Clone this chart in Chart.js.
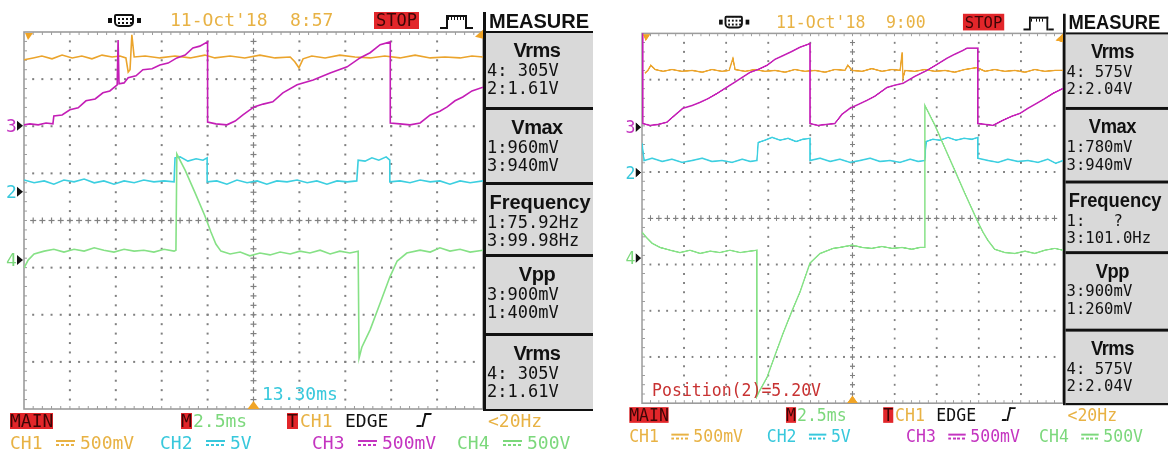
<!DOCTYPE html>
<html>
<head>
<title>Scope captures</title>
<script src="https://cdn.jsdelivr.net/npm/chart.js"></script>
<style>
  body { margin: 0; background: #fff; width: 1168px; height: 453px; overflow: hidden; position: relative; }
  .scope { position: absolute; top: 0; width: 600px; height: 453px; overflow: hidden; transform-origin: 0 0; }
  #left { left: 0; width: 593px; }
  #right { left: 620px; top: 1.6px; transform: scale(0.917, 0.981); }
  .scope canvas { position: absolute; left: 0; top: 0; width: 600px; height: 453px; }
  .t { position: absolute; white-space: pre; font-family: "DejaVu Sans Mono", monospace; }
  .tag { background: #e2262a; color: #3c0606; }
  .blk { position: absolute; background: #111; }
  .box { position: absolute; left: 486px; width: 120px; background: #d9d9d9; }
  .mt { font: bold 20px/20px "Liberation Sans", Arial, sans-serif; color: #111; letter-spacing: -0.5px; text-align: center; }
  .sq { position: absolute; top: 18px; width: 4px; height: 5px; background: #111; }
  .plug { position: absolute; left: 114px; top: 14px; width: 16px; height: 9px; border: 2px solid #111;
          border-radius: 2px 2px 5px 5px;
          background: radial-gradient(circle, #111 40%, transparent 55%) 1px 1px / 4px 4px; }
  .pulse { position: absolute; left: 446px; top: 15px; width: 17px; height: 12px; border: 2px solid #111; border-bottom: none;
           background: repeating-linear-gradient(90deg, #111 0 1px, transparent 1px 3px) top / 100% 3px no-repeat; }
  .pulse::before, .pulse::after { content: ''; position: absolute; bottom: 0; width: 6px; height: 2px; background: #111; }
  .pulse::before { left: -8px; }
  .pulse::after { right: -8px; }
  .edge { position: absolute; left: 423px; top: 413px; width: 5px; height: 12px; border-left: 2px solid #111;
          border-top: 2px solid #111; transform: skewX(-14deg); }
  .edge::before { content: ''; position: absolute; left: -7px; bottom: 0; width: 5px; height: 2px; background: #111; }
  .dc { position: absolute; width: 19px; height: 6px;
        background: linear-gradient(currentColor, currentColor) top / 100% 2px no-repeat,
                    repeating-linear-gradient(90deg, currentColor 0 3px, transparent 3px 5px) bottom / 100% 2px no-repeat; }
</style>
</head>
<body>
<div class="scope" id="left"><canvas width="600" height="453"></canvas></div>
<div class="scope" id="right"><canvas width="600" height="453"></canvas></div>
<script>
// x: time in divisions (2.5 ms/div), y: divisions from screen centre
const channelNames = ['CH1', 'CH2', 'CH3', 'CH4'];
const channelScales = ['500mV', '5V', '500mV', '500V'];
const groundChannels = ['3', '2', '4'];

const leftCh1 = [[0,3.41],[0.2,3.45],[0.39,3.49],[0.61,3.43],[0.83,3.51],[1.05,3.45],[1.26,3.49],[1.48,3.43],[1.7,3.51],[1.92,3.47],[2.09,3.49],[2.22,3.45],[2.27,3.15],[2.31,3.2],[2.35,3.94],[2.4,3.47],[2.64,3.49],[2.96,3.45],[3.29,3.49],[3.62,3.45],[3.94,3.51],[4.16,3.45],[4.49,3.49],[4.81,3.45],[5.14,3.51],[5.47,3.45],[5.8,3.47],[5.9,3.37],[5.99,3.24],[6.08,3.43],[6.27,3.49],[6.56,3.45],[6.88,3.51],[7.21,3.47],[7.54,3.45],[7.86,3.49],[8.19,3.45],[8.52,3.51],[8.85,3.45],[9.17,3.47],[9.5,3.45],[9.76,3.49],[10,3.47]];
const leftCh2 = [[0,0.86],[0.22,0.8],[0.44,0.84],[0.65,0.77],[0.87,0.86],[1.09,0.82],[1.31,0.88],[1.53,0.8],[1.74,0.84],[1.96,0.77],[2.18,0.84],[2.4,0.8],[2.61,0.86],[2.83,0.82],[3.05,0.84],[3.27,0.82],[3.29,1.33],[3.4,1.35],[3.57,1.26],[3.75,1.31],[3.9,1.28],[3.99,1.33],[3.99,0.82],[4.2,0.84],[4.42,0.77],[4.64,0.86],[4.86,0.8],[5.08,0.84],[5.29,0.77],[5.51,0.84],[5.73,0.82],[5.95,0.86],[6.17,0.8],[6.38,0.84],[6.6,0.77],[6.82,0.84],[7.04,0.82],[7.25,0.84],[7.28,1.28],[7.43,1.26],[7.58,1.33],[7.73,1.28],[7.89,1.35],[7.97,1.28],[7.97,0.82],[8.19,0.84],[8.41,0.8],[8.63,0.86],[8.85,0.82],[9.06,0.84],[9.28,0.77],[9.5,0.84],[9.72,0.8],[10,0.84]];
const leftCh3 = [[0,2.03],[0.13,2.05],[0.31,2.03],[0.48,2.07],[0.63,2.05],[0.65,2.22],[0.83,2.24],[1.0,2.35],[1.18,2.39],[1.35,2.54],[1.55,2.58],[1.72,2.71],[1.87,2.75],[2.03,2.88],[2.05,3.83],[2.07,2.9],[2.18,2.92],[2.27,3.03],[2.44,3.07],[2.59,3.2],[2.79,3.22],[2.96,3.3],[3.14,3.34],[3.33,3.45],[3.51,3.51],[3.68,3.66],[3.83,3.7],[4.0,3.79],[4.0,2.09],[4.18,2.05],[4.42,2.03],[4.6,2.11],[4.77,2.24],[5.01,2.41],[5.21,2.47],[5.42,2.52],[5.64,2.71],[5.95,2.88],[6.3,2.98],[6.67,3.13],[7.04,3.26],[7.32,3.45],[7.54,3.56],[7.76,3.73],[7.98,3.79],[7.98,2.07],[8.19,2.05],[8.41,2.03],[8.63,2.07],[8.85,2.24],[9.06,2.32],[9.22,2.41],[9.39,2.54],[9.56,2.62],[9.76,2.75],[10,2.83]];
const leftCh4 = [[0,-1.01],[0.09,-0.84],[0.22,-0.71],[0.44,-0.65],[0.65,-0.61],[0.87,-0.67],[1.09,-0.61],[1.31,-0.65],[1.53,-0.58],[1.74,-0.63],[1.96,-0.67],[2.18,-0.61],[2.4,-0.65],[2.61,-0.63],[2.83,-0.67],[3.05,-0.61],[3.27,-0.65],[3.31,-0.63],[3.33,1.41],[3.51,1.07],[3.73,0.58],[3.94,0.1],[4.07,-0.24],[4.18,-0.5],[4.29,-0.65],[4.49,-0.71],[4.71,-0.67],[4.92,-0.75],[5.14,-0.69],[5.36,-0.73],[5.58,-0.67],[5.8,-0.71],[6.01,-0.65],[6.23,-0.69],[6.45,-0.63],[6.67,-0.71],[6.88,-0.65],[7.1,-0.69],[7.28,-0.65],[7.3,-2.92],[7.36,-2.69],[7.54,-2.32],[7.76,-1.75],[7.97,-1.2],[8.13,-0.86],[8.34,-0.69],[8.63,-0.63],[8.85,-0.67],[9.06,-0.58],[9.28,-0.65],[9.5,-0.61],[9.72,-0.67],[10,-0.63]];

const rightCh1 = [[0.07,3.14],[0.14,3.2],[0.21,3.31],[0.31,3.22],[0.5,3.18],[0.71,3.22],[0.95,3.18],[1.19,3.2],[1.43,3.16],[1.66,3.22],[1.9,3.18],[2.07,3.2],[2.16,3.46],[2.21,3.22],[2.45,3.18],[2.68,3.22],[2.92,3.18],[3.16,3.2],[3.4,3.16],[3.63,3.22],[3.87,3.18],[4.11,3.2],[4.35,3.16],[4.58,3.22],[4.82,3.2],[4.89,3.31],[4.99,3.2],[5.23,3.18],[5.46,3.24],[5.7,3.18],[5.94,3.22],[6.13,3.2],[6.18,3.59],[6.2,3.03],[6.25,3.2],[6.48,3.18],[6.72,3.22],[6.96,3.18],[7.2,3.2],[7.43,3.16],[7.67,3.22],[7.96,3.26],[8.15,3.18],[8.38,3.22],[8.62,3.18],[8.86,3.2],[9.1,3.16],[9.33,3.22],[9.57,3.18],[9.81,3.2],[10,3.2]];
const rightCh2 = [[0,1.62],[0.05,1.25],[0.24,1.3],[0.48,1.23],[0.71,1.28],[0.95,1.21],[1.19,1.25],[1.43,1.3],[1.66,1.23],[1.9,1.25],[2.14,1.21],[2.38,1.28],[2.57,1.23],[2.73,1.25],[2.76,1.64],[2.92,1.69],[3.09,1.75],[3.28,1.69],[3.47,1.73],[3.66,1.66],[3.82,1.71],[3.99,1.73],[3.99,1.25],[4.23,1.3],[4.47,1.23],[4.7,1.28],[4.94,1.21],[5.18,1.25],[5.42,1.3],[5.65,1.23],[5.89,1.25],[6.13,1.21],[6.37,1.28],[6.56,1.23],[6.72,1.25],[6.75,1.66],[6.91,1.71],[7.08,1.69],[7.27,1.75],[7.46,1.69],[7.65,1.73],[7.84,1.71],[7.98,1.75],[7.98,1.3],[8.22,1.25],[8.46,1.21],[8.69,1.28],[8.93,1.23],[9.17,1.25],[9.41,1.21],[9.64,1.28],[9.83,1.19],[10,1.25]];
const rightCh3 = [[0,4.0],[0.02,2.05],[0.19,2.01],[0.38,2.03],[0.59,2.08],[0.78,2.23],[0.97,2.38],[1.19,2.44],[1.38,2.51],[1.57,2.59],[1.78,2.7],[1.97,2.81],[2.16,2.92],[2.35,3.03],[2.57,3.16],[2.76,3.22],[2.97,3.31],[3.16,3.44],[3.35,3.52],[3.56,3.61],[3.75,3.7],[3.99,3.78],[3.99,2.05],[4.18,2.01],[4.37,2.03],[4.58,2.05],[4.75,2.25],[4.94,2.38],[5.13,2.46],[5.34,2.55],[5.53,2.64],[5.82,2.83],[6.01,2.88],[6.2,2.92],[6.48,3.07],[6.77,3.2],[7.01,3.33],[7.24,3.46],[7.43,3.55],[7.62,3.63],[7.72,3.68],[7.98,3.68],[7.98,2.05],[8.17,2.03],[8.34,2.01],[8.57,2.12],[8.79,2.21],[8.98,2.27],[9.17,2.38],[9.38,2.49],[9.57,2.59],[9.76,2.7],[10,2.81]];
const rightCh4 = [[0,-0.3],[0.1,-0.41],[0.24,-0.54],[0.43,-0.63],[0.67,-0.69],[0.9,-0.74],[1.14,-0.69],[1.38,-0.76],[1.62,-0.71],[1.85,-0.74],[2.09,-0.69],[2.33,-0.74],[2.57,-0.71],[2.73,-0.69],[2.73,-3.85],[2.8,-3.72],[2.97,-3.44],[3.16,-2.96],[3.35,-2.49],[3.56,-2.01],[3.75,-1.6],[3.99,-0.97],[4.23,-0.76],[4.54,-0.65],[4.7,-0.63],[4.99,-0.58],[5.23,-0.63],[5.46,-0.65],[5.7,-0.61],[5.94,-0.65],[6.18,-0.63],[6.41,-0.67],[6.6,-0.63],[6.72,-0.63],[6.72,2.44],[6.96,2.01],[7.2,1.51],[7.43,1.04],[7.67,0.54],[7.96,-0.04],[8.1,-0.3],[8.22,-0.48],[8.38,-0.67],[8.62,-0.74],[8.86,-0.76],[9.1,-0.71],[9.33,-0.76],[9.57,-0.69],[9.81,-0.65],[10,-0.69]];

const leftGround = [2.01, 0.61, -0.84];
const rightGround = [1.97, 0.99, -0.86];
const trigTime = 5;
const leftTrigLevel = 3.94;
const rightTrigLevel = 3.89;

const measureTitles = ['Vrms', 'Vmax', 'Frequency', 'Vpp', 'Vrms'];
const leftReadings = [['4: 305V', '2:1.61V'], ['1:960mV', '3:940mV'], ['1:75.92Hz', '3:99.98Hz'], ['3:900mV', '1:400mV'], ['4: 305V', '2:1.61V']];
const rightReadings = [['4: 575V', '2:2.04V'], ['1:780mV', '3:940mV'], ['1:   ?', '3:101.0Hz'], ['3:900mV', '1:260mV'], ['4: 575V', '2:2.04V']];
const leftStamp = ["11-Oct'18", '8:57'];
const rightStamp = ["11-Oct'18", '9:00'];
const timebase = '2.5ms';
const trigInfo = ['CH1', 'EDGE', '<20Hz'];

// styles
const traceColors = ['#eba42c', '#3ccfe0', '#c41eb6', '#86e186'];
const textColors = ['#e8b244', '#38c8dc', '#c434c0', '#7cd87c'];
const boxRows = [[33, 107], [110, 182], [185, 254], [257, 333], [336, 409]];

const scopeGrid = {
  id: 'scopeGrid',
  beforeDatasetsDraw(chart) {
    const { ctx, chartArea: a, scales: { x, y } } = chart;
    ctx.save();
    ctx.fillStyle = '#808080';
    const dot = (px, py) => ctx.fillRect(px - 1, py - 1, 2, 2);
    const cross = (px, py) => { ctx.fillRect(px - 3, py - 0.6, 6, 1.2); ctx.fillRect(px - 0.6, py - 3, 1.2, 6); };
    for (let i = 1; i < 10; i++) {
      const px = x.getPixelForValue(i);
      for (let k = 1; k < 40; k++) {
        const py = y.getPixelForValue(-4 + k / 5);
        i === 5 ? cross(px, py) : dot(px, py);
      }
    }
    for (let j = -3; j <= 3; j++) {
      const py = y.getPixelForValue(j);
      for (let k = 1; k < 50; k++) {
        const px = x.getPixelForValue(k / 5);
        j === 0 ? cross(px, py) : dot(px, py);
      }
    }
    ctx.strokeStyle = '#9c9c9c';
    ctx.lineWidth = 1.6;
    ctx.strokeRect(a.left, a.top, a.right - a.left, a.bottom - a.top);
    ctx.lineWidth = 1;
    ctx.beginPath();
    for (let k = 1; k < 50; k++) {
      const px = x.getPixelForValue(k / 5);
      ctx.moveTo(px, a.top); ctx.lineTo(px, a.top + 3);
      ctx.moveTo(px, a.bottom); ctx.lineTo(px, a.bottom - 3);
    }
    for (let k = 1; k < 40; k++) {
      const py = y.getPixelForValue(-4 + k / 5);
      ctx.moveTo(a.left, py); ctx.lineTo(a.left + 3, py);
    }
    ctx.stroke();
    ctx.restore();
  }
};

const scopeMarks = {
  id: 'scopeMarks',
  afterDatasetsDraw(chart, args, o) {
    const { ctx, chartArea: a, scales: { x, y } } = chart;
    const tri = (p) => { ctx.beginPath(); ctx.moveTo(...p[0]); ctx.lineTo(...p[1]); ctx.lineTo(...p[2]); ctx.closePath(); ctx.fill(); };
    ctx.save();
    ctx.fillStyle = '#111';
    o.grounds.forEach(v => {
      const py = y.getPixelForValue(v);
      tri([[a.left - 7, py - 5], [a.left - 1, py], [a.left - 7, py + 5]]);
    });
    ctx.fillStyle = '#f0a426';
    const tx = x.getPixelForValue(o.trigTime);
    tri([[tx - 6, a.bottom], [tx, a.bottom - 8], [tx + 6, a.bottom]]);
    const ty = y.getPixelForValue(o.trigLevel);
    tri([[a.right, ty - 5], [a.right, ty + 4], [a.right - 8, ty + 2]]);
    tri([[a.left + 1, a.top + 1], [a.left + 9, a.top + 1], [a.left + 4, a.top + 8]]);
    ctx.restore();
  }
};

function el(parent, cls, css, text) {
  const e = document.createElement('div');
  e.className = cls;
  if (css) e.style.cssText = css;
  if (text != null) e.textContent = text;
  parent.appendChild(e);
  return e;
}

function buildScope(id, cfg) {
  const root = document.getElementById(id);
  const txt = (x, cy, s, color, size = 18, extra = '') =>
    el(root, 't', `left:${x}px;top:${cy - size / 2}px;font-size:${size}px;line-height:${size}px;color:${color};${extra}`, s);
  const tag = (x, cy, w, s) =>
    el(root, 't tag', `left:${x}px;top:${cy - 8}px;width:${w}px;height:16px;font-size:18px;line-height:16px;text-align:center`, s);

  // header strip
  el(root, 'sq', 'left:108px');
  el(root, 'plug');
  el(root, 'sq', 'left:137px');
  txt(170, 20, cfg.stamp[0], textColors[0]);
  txt(290, 20, cfg.stamp[1], textColors[0]);
  el(root, 't tag', 'left:374px;top:12px;width:45px;height:17px;font-size:17px;line-height:17px;text-align:center', 'STOP');
  el(root, 'pulse');

  // measure panel
  el(root, 'blk', 'left:483px;top:12px;width:3px;height:399px');
  el(root, 'blk', 'left:486px;top:31px;width:120px;height:380px');
  el(root, 't mt', 'left:489px;top:11px;text-align:left;letter-spacing:0', 'MEASURE');
  boxRows.forEach(([top, bottom], i) => {
    el(root, 'box', `top:${top}px;height:${bottom - top}px`);
    const big = measureTitles[i].length > 5;
    el(root, 't mt', `left:436px;width:202px;top:${top + 7}px;${big ? 'letter-spacing:0;padding-left:3px' : ''}`, measureTitles[i]);
    txt(487, top + 37, cfg.readings[i][0], '#111', 17);
    txt(487, top + 55, cfg.readings[i][1], '#111', 17);
  });

  // status rows
  tag(10, 420.5, 43, 'MAIN');
  tag(181, 420.5, 11, 'M');
  txt(193, 420.5, timebase, textColors[3]);
  tag(287, 420.5, 11, 'T');
  txt(300, 420.5, trigInfo[0], textColors[0]);
  txt(345, 420.5, trigInfo[1], '#111');
  el(root, 'edge');
  txt(488, 420.5, trigInfo[2], textColors[0]);
  const chX = [10, 160, 312, 457];
  channelNames.forEach((n, i) => {
    txt(chX[i], 443, n, textColors[i]);
    el(root, 'dc', `left:${chX[i] + 46}px;top:440px;color:${textColors[i]}`);
    txt(chX[i] + 70, 443, channelScales[i], textColors[i]);
  });
  cfg.notes.forEach(([s, x, cy, color]) => txt(x, cy, s, color));

  const chart = new Chart(root.querySelector('canvas'), {
    type: 'line',
    data: {
      datasets: cfg.traces.map((pts, i) => ({
        label: channelNames[i],
        data: pts,
        borderColor: traceColors[i],
        borderWidth: 1.6,
        pointRadius: 0,
        tension: 0,
        order: 4 - i
      }))
    },
    options: {
      responsive: false,
      animation: false,
      devicePixelRatio: cfg.dpr,
      events: [],
      layout: { padding: { left: 24, top: 32, right: 117, bottom: 44 } },
      scales: {
        x: { type: 'linear', min: 0, max: 10, display: false },
        y: { type: 'linear', min: -4, max: 4, display: false }
      },
      plugins: {
        legend: { display: false },
        tooltip: { enabled: false },
        scopeMarks: { grounds: cfg.ground, trigTime: trigTime, trigLevel: cfg.trigLevel }
      }
    },
    plugins: [scopeGrid, scopeMarks]
  });

  // channel ground labels next to the markers
  cfg.ground.forEach((v, i) => {
    const ch = groundChannels[i];
    txt(6, chart.scales.y.getPixelForValue(v), ch, textColors[+ch - 1]);
  });
}

buildScope('left', {
  traces: [leftCh1, leftCh2, leftCh3, leftCh4],
  ground: leftGround,
  trigLevel: leftTrigLevel,
  readings: leftReadings,
  stamp: leftStamp,
  notes: [['13.30ms', 262, 394, textColors[1]]],
  dpr: 1
});

buildScope('right', {
  traces: [rightCh1, rightCh2, rightCh3, rightCh4],
  ground: rightGround,
  trigLevel: rightTrigLevel,
  readings: rightReadings,
  stamp: rightStamp,
  notes: [['Position(2)=5.20V', 35, 396, '#c83232']],
  dpr: 2
});
</script>
</body>
</html>
